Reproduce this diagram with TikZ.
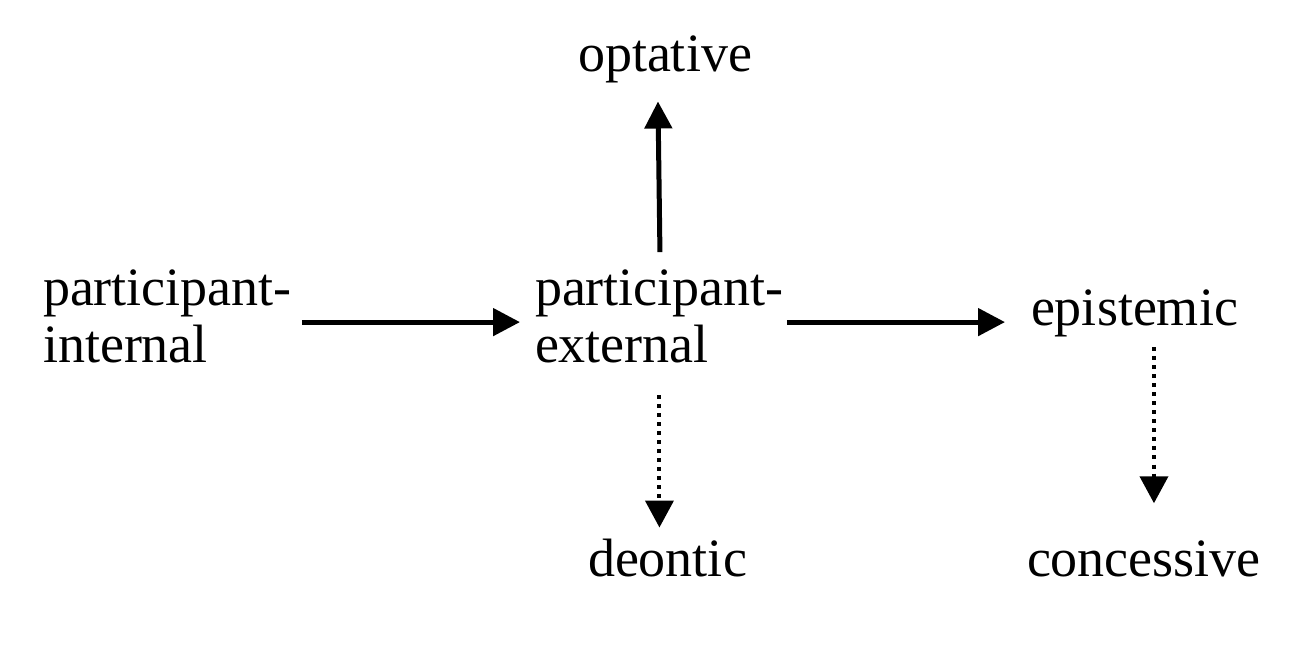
\documentclass[tikz,border=0pt]{standalone}
\usepackage{fontspec}
\setmainfont{Liberation Serif}
\usetikzlibrary{arrows.meta}
\begin{document}
\begin{tikzpicture}[x=1pt,y=-1pt,
  lbl/.style={anchor=base west,inner sep=0pt,outer sep=0pt,font=\fontsize{54}{57}\selectfont},
  solidarrow/.style={line width=5pt,-{Triangle[length=27pt,width=27pt]}},
  dotarrow/.style={line width=4pt,dash pattern=on 4pt off 5pt,-{Triangle[length=27pt,width=28pt]}}]
\useasboundingbox[fill=white] (0,0) rectangle (1300,647);
\node[lbl] (opt) at (578,72) {optative};
\node[lbl] (pi) at (43,305) {\begin{tabular}[t]{@{}l@{}}participant-\\internal\end{tabular}};
\node[lbl] (pe) at (535,305) {\begin{tabular}[t]{@{}l@{}}participant-\\external\end{tabular}};
\node[lbl] (ep) at (1031,325) {epistemic};
\node[lbl] (de) at (588,576) {deontic};
\node[lbl] (co) at (1027,576) {concessive};
\draw[solidarrow] ([xshift=10pt]pi.east) -- ([xshift=-15pt]pi.east -| pe.west);
\draw[solidarrow] ([xshift=3pt]pe.east) -- ([xshift=-26pt]pe.east -| ep.west);
\draw[solidarrow] ([xshift=0.5pt,yshift=13pt]pe.north) -- ([xshift=-7pt,yshift=-18pt]opt.south);
\draw[dotarrow] ([yshift=-16pt]pe.south) -- ([yshift=11pt]pe.south |- de.north);
\draw[dotarrow] ([xshift=19.5pt,yshift=-11pt]ep.south) -- ([xshift=19.5pt,yshift=37pt]ep.south |- co.north);
\end{tikzpicture}
\end{document}
